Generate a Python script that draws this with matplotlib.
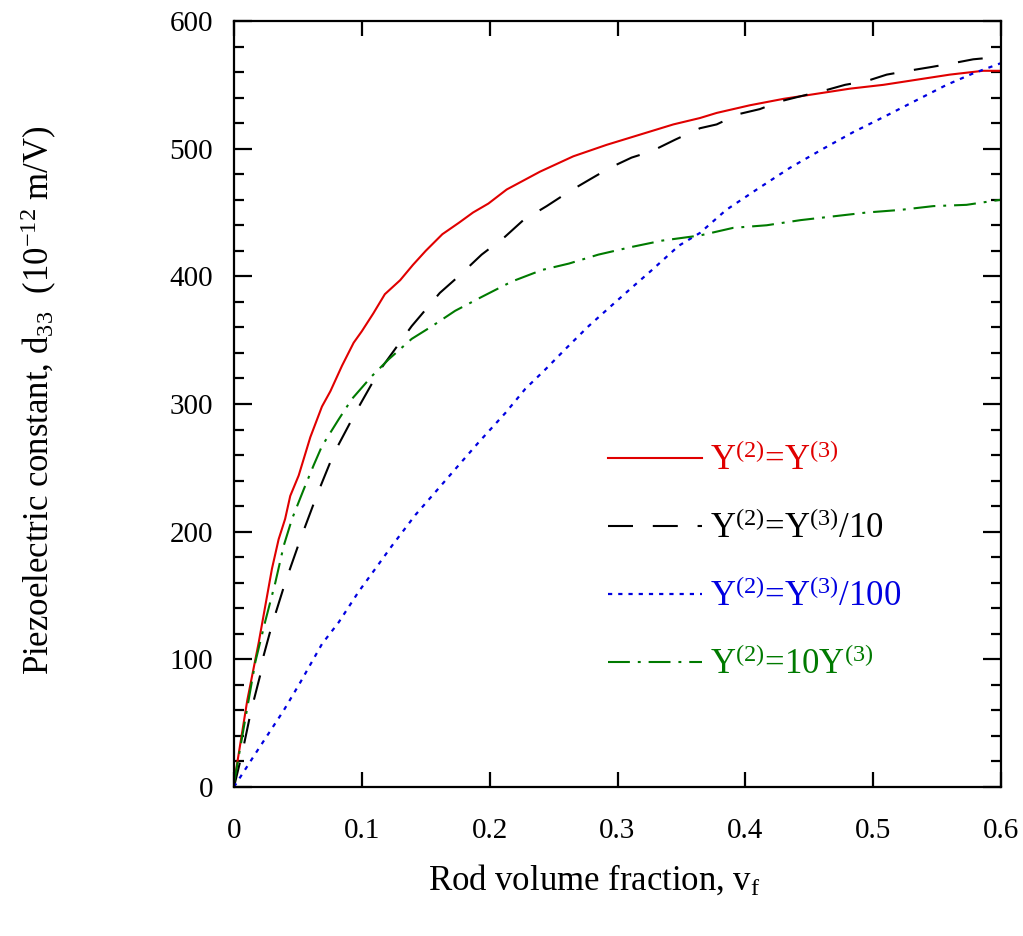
import matplotlib
matplotlib.use("Agg")
import matplotlib.pyplot as plt

# rod volume fraction / d33
red_v = [0, 0.0104, 0.0193, 0.0245, 0.0297, 0.0349, 0.040, 0.044, 0.0506, 0.0597,
         0.0688, 0.0754, 0.0845, 0.0936, 0.100, 0.109, 0.118, 0.130, 0.140, 0.150,
         0.163, 0.176, 0.187, 0.199, 0.2133, 0.2394, 0.2654, 0.2915, 0.3176, 0.3437,
         0.3645, 0.3776, 0.4036, 0.4297, 0.4558, 0.4818, 0.508, 0.534, 0.560, 0.586, 0.6]
red_d = [3, 68, 113, 142, 171, 194, 210, 228, 244, 274,
         298, 310, 330, 348, 357, 371, 386, 397, 409, 420,
         433, 442, 450, 457, 468, 482, 494, 503, 511, 519,
         524, 528, 534, 539, 543, 547, 550, 554, 558, 561, 561]

black_v = [0, 0.0065, 0.0132, 0.0206, 0.0232, 0.0297, 0.040, 0.0519, 0.065, 0.078,
           0.0949, 0.113, 0.139, 0.161, 0.1768, 0.1937, 0.212, 0.2263, 0.2446, 0.2615,
           0.2785, 0.294, 0.311, 0.3267, 0.345, 0.3645, 0.3776, 0.3945, 0.4114, 0.427,
           0.443, 0.4637, 0.478, 0.495, 0.5106, 0.5275, 0.5457, 0.5627, 0.5783, 0.6]
black_d = [0, 27, 59, 88, 103, 127, 160, 194, 229, 261,
           293, 325, 361, 387, 401, 417, 431, 444, 455, 466,
           476, 485, 493, 498, 507, 516, 519, 527, 531, 537,
           541, 546, 550, 553, 558, 561, 564, 567, 570, 572]

blue_v = [0, 0.0025, 0.0173, 0.0389, 0.0519, 0.0688, 0.0819, 0.0975, 0.1106, 0.1236,
          0.1418, 0.1575, 0.1757, 0.1914, 0.2123, 0.228, 0.2435, 0.2592, 0.2774, 0.293,
          0.311, 0.327, 0.348, 0.3645, 0.385, 0.4089, 0.4349, 0.461, 0.4845, 0.5106,
          0.534, 0.5575, 0.5783, 0.6]
blue_d = [0, 4, 27, 60, 82, 112, 129, 153, 171, 189,
          213, 231, 252, 270, 293, 312, 327, 343, 361, 375,
          391, 405, 424, 434, 452, 468, 485, 500, 513, 526,
          538, 550, 559, 567]

green_v = [0, 0.0167, 0.0245, 0.0323, 0.0389, 0.0454, 0.0545, 0.0623, 0.0688, 0.0819,
           0.0923, 0.108, 0.121, 0.139, 0.155, 0.173, 0.194, 0.2175, 0.241, 0.262,
           0.285, 0.311, 0.335, 0.3645, 0.3906, 0.4167, 0.443, 0.469, 0.495, 0.521,
           0.547, 0.573, 0.6]
green_d = [3, 98, 130, 160, 189, 210, 233, 252, 267, 288,
           304, 322, 335, 351, 361, 373, 384, 396, 405, 410,
           417, 423, 428, 432, 438, 440, 444, 447, 450, 452,
           455, 456, 460]

labels = [r"Y$^{(2)}$=Y$^{(3)}$", r"Y$^{(2)}$=Y$^{(3)}$/10",
          r"Y$^{(2)}$=Y$^{(3)}$/100", r"Y$^{(2)}$=10Y$^{(3)}$"]
xticks = [0, 0.1, 0.2, 0.3, 0.4, 0.5, 0.6]
xticklabels = ["0", "0.1", "0.2", "0.3", "0.4", "0.5", "0.6"]
yticks = [0, 100, 200, 300, 400, 500, 600]

plt.rcParams["font.family"] = ["Liberation Serif", "DejaVu Serif"]
plt.rcParams["mathtext.fontset"] = "custom"
plt.rcParams["mathtext.rm"] = "Liberation Serif"
plt.rcParams["mathtext.it"] = "Liberation Serif:italic"
plt.rcParams["mathtext.bf"] = "Liberation Serif:bold"

fig = plt.figure(figsize=(10.23, 9.36), dpi=100)
ax = fig.add_axes([234 / 1023, 1 - 787 / 936, 767 / 1023, 766 / 936])

ax.plot(red_v, red_d, color="#e00000", lw=1.5, label=labels[0])
ax.plot(black_v, black_d, color="black", lw=1.5, dashes=(12, 9.5), label=labels[1])
ax.plot(blue_v, blue_d, color="#0000e0", lw=1.6, dashes=(1.9, 2.7), label=labels[2])
ax.plot(green_v, green_d, color="#007a00", lw=1.5, dashes=(10.5, 3.8, 1.4, 3.8), label=labels[3])

ax.set_xlim(0, 0.6)
ax.set_ylim(0, 600)
ax.set_xticks(xticks)
ax.set_xticklabels(xticklabels)
ax.set_yticks(yticks)
ax.set_yticks(range(0, 601, 20), minor=True)

for s in ax.spines.values():
    s.set_linewidth(1.6)
ax.tick_params(which="both", direction="in", top=True, right=True, width=1.6, labelsize=21)
ax.tick_params(axis="y", which="major", length=13, pad=15)
ax.tick_params(axis="y", which="minor", length=7)
ax.tick_params(axis="x", which="major", length=11, pad=22)

ax.set_xlabel("Rod volume fraction, v$_{\\mathrm{f}}$", fontsize=25)
ax.xaxis.set_label_coords(0.47, -0.1)
ax.set_ylabel("Piezoelectric constant, d$_{\\mathrm{33}}$  (10$^{-12}$ m/V)", fontsize=25)
ax.yaxis.set_label_coords(-0.228, 0.505)

leg = ax.legend(loc="upper left", bbox_to_anchor=(0.465, 0.47), frameon=False,
                fontsize=25, handlelength=2.7, handletextpad=0.25, labelspacing=0.97,
                borderpad=0, labelcolor="linecolor")

fig.savefig("out.png", dpi=100)
